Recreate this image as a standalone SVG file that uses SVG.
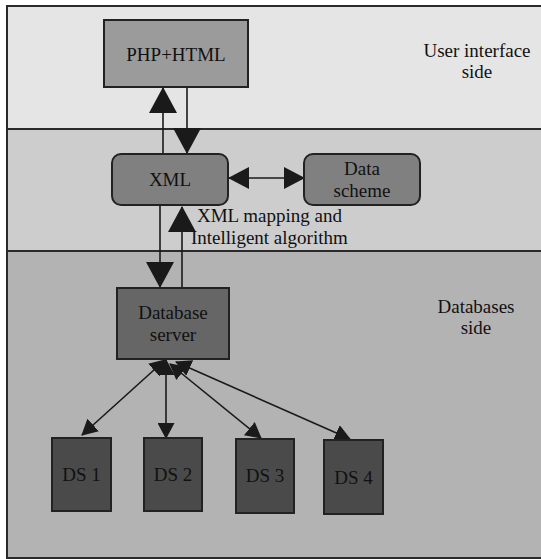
<svg xmlns="http://www.w3.org/2000/svg" width="541" height="559" viewBox="0 0 541 559">
<style>
.band{stroke:#2a2a2a;stroke-width:2}
.node{stroke:#222;stroke-width:2}
.lbl{font-family:"Liberation Serif","Times New Roman",serif;font-size:19px;fill:#111;text-anchor:middle}
.lbl-l{font-family:"Liberation Serif","Times New Roman",serif;font-size:19px;fill:#111}
.con{stroke:#1a1a1a;stroke-width:1.6;fill:none}
</style>
<defs>
<marker id="big" viewBox="0 0 26 28" refX="25" refY="14" markerWidth="26" markerHeight="28" markerUnits="userSpaceOnUse" orient="auto-start-reverse"><path d="M0,0 L26,14 L0,28 z" fill="#1a1a1a"/></marker>
<marker id="mid" viewBox="0 0 21 22" refX="20" refY="11" markerWidth="21" markerHeight="22" markerUnits="userSpaceOnUse" orient="auto-start-reverse"><path d="M0,0 L21,11 L0,22 z" fill="#1a1a1a"/></marker>
<marker id="small" viewBox="0 0 16 17" refX="15" refY="8.5" markerWidth="16" markerHeight="17" markerUnits="userSpaceOnUse" orient="auto-start-reverse"><path d="M0,0 L16,8.5 L0,17 z" fill="#1a1a1a"/></marker>
</defs>
<g id="bands">
<rect x="7" y="6" width="540" height="123" fill="#e5e5e5" class="band"/>
<rect x="7" y="129" width="540" height="122" fill="#cdcdcd" class="band"/>
<rect x="7" y="251" width="540" height="307" fill="#b3b3b3" class="band"/>
<text class="lbl" x="477" y="57">User interface</text>
<text class="lbl" x="477" y="78">side</text>
<text class="lbl" x="476" y="313">Databases</text>
<text class="lbl" x="476" y="334">side</text>
</g>
<g id="connectors">
<line class="con" x1="163" y1="154" x2="163" y2="88" marker-end="url(#big)"/>
<line class="con" x1="187" y1="87" x2="187" y2="153" marker-end="url(#big)"/>
<line class="con" x1="229" y1="178" x2="304" y2="178" marker-start="url(#mid)" marker-end="url(#mid)"/>
<line class="con" x1="160" y1="205" x2="160" y2="287" marker-end="url(#big)"/>
<line class="con" x1="182" y1="288" x2="182" y2="207" marker-end="url(#big)"/>
<line class="con" x1="165" y1="360" x2="82" y2="435" marker-start="url(#small)" marker-end="url(#small)"/>
<line class="con" x1="166" y1="360" x2="166" y2="438" marker-start="url(#small)" marker-end="url(#small)"/>
<line class="con" x1="170" y1="364" x2="261" y2="438" marker-start="url(#small)" marker-end="url(#small)"/>
<line class="con" x1="176" y1="362" x2="350" y2="439" marker-start="url(#small)" marker-end="url(#small)"/>
<text class="lbl-l" x="197" y="222">XML mapping and</text>
<text class="lbl-l" x="191" y="244">Intelligent algorithm</text>
</g>
<g id="php-html">
<rect x="104" y="20" width="144" height="67" fill="#9b9b9b" class="node"/>
<text class="lbl" x="176" y="61">PHP+HTML</text>
</g>
<g id="xml">
<rect x="112" y="154" width="116" height="51" rx="9" fill="#808080" class="node"/>
<text class="lbl" x="170" y="186">XML</text>
</g>
<g id="data-scheme">
<rect x="304" y="154" width="116" height="51" rx="9" fill="#808080" class="node"/>
<text class="lbl" x="362" y="175">Data</text>
<text class="lbl" x="362" y="197">scheme</text>
</g>
<g id="database-server">
<rect x="117" y="288" width="112" height="71" fill="#666666" class="node"/>
<text class="lbl" x="173" y="319">Database</text>
<text class="lbl" x="173" y="341">server</text>
</g>
<g id="ds1">
<rect x="52" y="438" width="59" height="73" fill="#4a4a4a" class="node"/>
<text class="lbl" x="81.5" y="481">DS 1</text>
</g>
<g id="ds2">
<rect x="144" y="438" width="58" height="73" fill="#4a4a4a" class="node"/>
<text class="lbl" x="173" y="481">DS 2</text>
</g>
<g id="ds3">
<rect x="236" y="439" width="58" height="74" fill="#4a4a4a" class="node"/>
<text class="lbl" x="265" y="482">DS 3</text>
</g>
<g id="ds4">
<rect x="324" y="440" width="59" height="74" fill="#4a4a4a" class="node"/>
<text class="lbl" x="353.5" y="484">DS 4</text>
</g>
</svg>
